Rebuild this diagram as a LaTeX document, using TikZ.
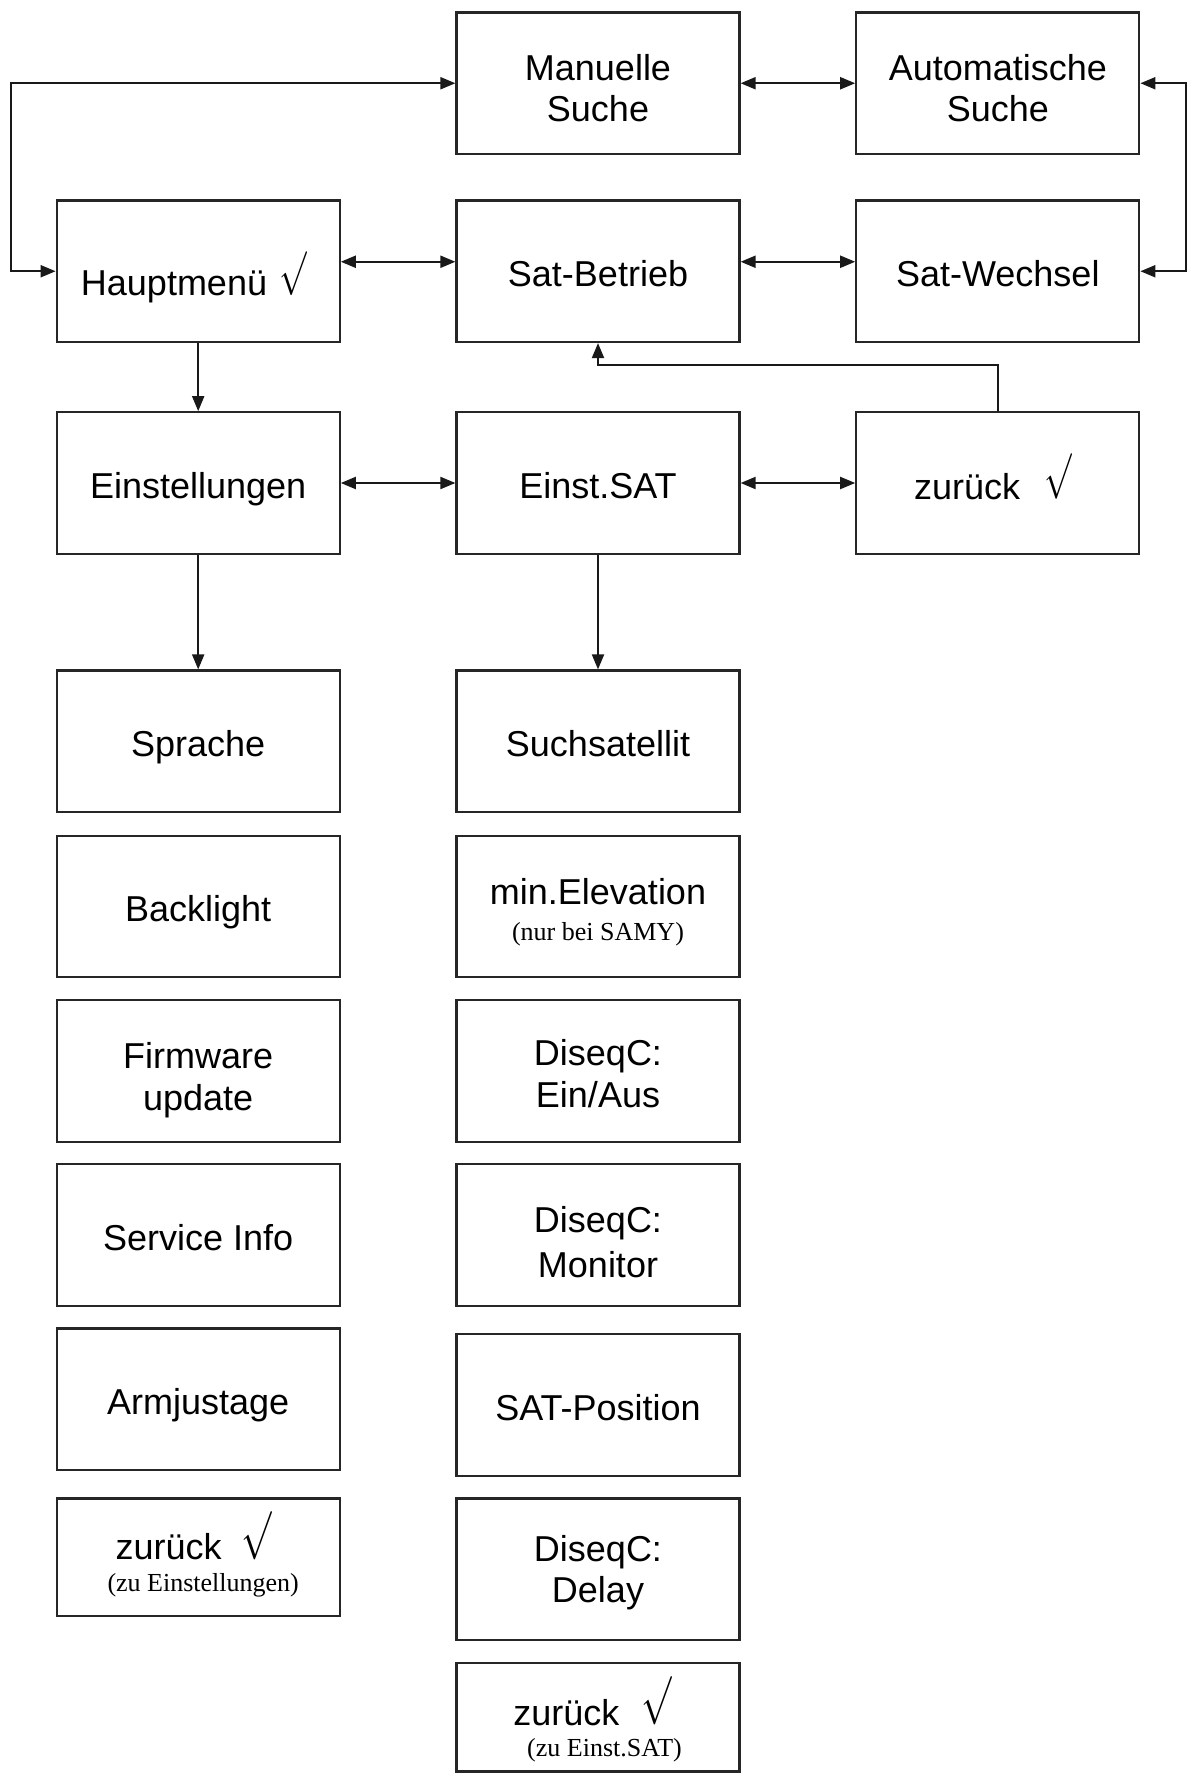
\documentclass[tikz,border=0pt]{standalone}
\usepackage{fontspec}
\setmainfont{Liberation Sans}
\newfontfamily\lsserif{Liberation Serif}
\usetikzlibrary{arrows.meta}
\newcommand\ck[2]{\raisebox{\depth}{\scalebox{#1}[#2]{$\surd$}}}
\newcommand\smalltx[1]{{\lsserif\fontsize{13}{15}\selectfont #1}}
\begin{document}
\begin{tikzpicture}[x=0.5pt,y=-0.5pt,
  box/.style={draw=black!85, line width=1.1pt, minimum width=141.5pt, minimum height=70.75pt, inner sep=0pt, align=center, font=\fontsize{18}{20.75}\selectfont},
  sl/.style={text height=15pt, text depth=0pt},
  ml/.style={text height=#1, text depth=0pt},
  con/.style={line width=1pt, black!90},
  arr/.style={con, -{Triangle[length=7.5pt,width=6pt]}},
  darr/.style={con, {Triangle[length=7.5pt,width=6pt]}-{Triangle[length=7.5pt,width=6pt]}}]

\useasboundingbox (0,0) rectangle (1196,1776);
\fill[white] (0,0) rectangle (1196,1776);

% top rows
\node[box, ml=38.75pt] (ms) at (598,83.25) {Manuelle\\Suche};
\node[box, ml=38.75pt] (as) at (997.8,83.25) {Automatische\\Suche};
\node[box, text height=24pt, text depth=0pt] (hm) at (198.2,271.25) {Hauptmenü\hspace{6pt}\ck{0.95}{1.27}\kern4.5pt};
\node[box, sl] (sb) at (598,271.25) {Sat-Betrieb};
\node[box, sl] (sw) at (997.8,271.25) {Sat-Wechsel};
\node[box, sl] (es) at (198.2,483) {Einstellungen};
\node[box, sl] (esat) at (598,483) {Einst.SAT};
\node[box, text height=16pt, text depth=0pt] (zr) at (997.8,483) {zurück\hspace{12pt}\ck{0.95}{1.32}\kern5pt};

% column 1
\node[box, sl] (spr) at (198.2,741.25) {Sprache};
\node[box, sl] (bl) at (198.2,906.6) {Backlight};
\node[box, ml=39pt] (fw) at (198.2,1071) {Firmware\\update};
\node[box, sl] (si) at (198.2,1235) {Service Info};
\node[box, sl] (aj) at (198.2,1399.3) {Armjustage};
\node[box, minimum height=58.9pt, ml=34.4pt] (ze) at (198.2,1557.3) {zurück\hspace{10pt}\ck{1.05}{1.4}\kern4.5pt\\[-4.75pt]\kern5pt\smalltx{(zu Einstellungen)}};

% column 2
\node[box, sl] (ss) at (598,741.25) {Suchsatellit};
\node[box, ml=34.1pt] (me) at (598,906.6) {min.Elevation\\[-2.75pt]\smalltx{(nur bei SAMY)}};
\node[box, ml=36pt] (de) at (598,1071) {DiseqC:\\Ein/Aus};
\node[box, ml=42.2pt] (dm) at (598,1235) {DiseqC:\\[1.75pt]Monitor};
\node[box, sl] (sp) at (598,1405) {SAT-Position};
\node[box, ml=33.75pt] (dd) at (598,1569.2) {DiseqC:\\Delay};
\node[box, minimum height=54.4pt, ml=39pt] (zs) at (598,1717) {zurück\hspace{11pt}\ck{1.05}{1.4}\kern5.5pt\\[-5.25pt]\kern6.5pt\smalltx{(zu Einst.SAT)}};

% connectors
\coordinate (L) at (11,0);
\coordinate (R) at (1186,0);
\coordinate (F) at (598,365);
\draw[darr] (ms.west) -- (ms.west -| L) |- (hm.west);
\draw[darr] (as.east) -- (as.east -| R) |- (sw.east);
\draw[darr] (ms) -- (as);
\draw[darr] ([yshift=4.75pt]hm.east) -- ([yshift=4.75pt]sb.west);
\draw[darr] ([yshift=4.75pt]sb.east) -- ([yshift=4.75pt]sw.west);
\draw[darr] (es) -- (esat);
\draw[darr] (esat) -- (zr);
\draw[arr] (hm) -- (es);
\draw[arr] (es) -- (spr);
\draw[arr] (esat) -- (ss);
\draw[arr] (zr.north) |- (F) -- (sb.south);
\end{tikzpicture}
\end{document}
